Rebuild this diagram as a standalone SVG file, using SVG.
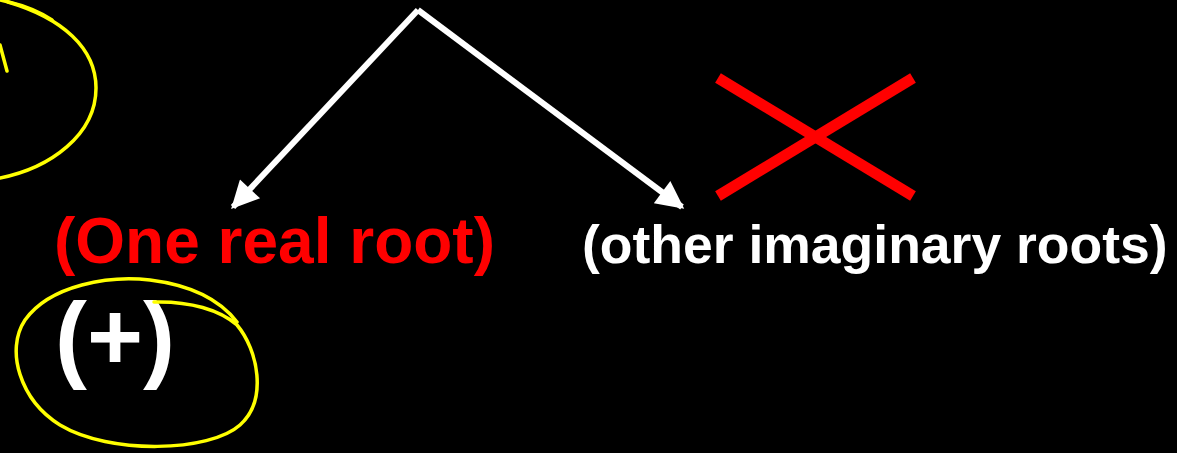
<svg xmlns="http://www.w3.org/2000/svg" width="1177" height="453" viewBox="0 0 1177 453">
<style>
.lbl{font-family:"Liberation Sans",Arial,sans-serif;font-weight:bold}
.hl{fill:none;stroke:#ffff00;stroke-width:3.5;stroke-linecap:round}
.conn{stroke:#ffffff;stroke-width:6;fill:none}
</style>
<defs>
<marker id="ah" viewBox="0 0 10 10" refX="9" refY="5" markerWidth="5" markerHeight="4.6" markerUnits="strokeWidth" orient="auto">
<path d="M0,0 L10,5 L0,10 z" fill="#ffffff"/>
</marker>
</defs>
<rect width="1177" height="453" fill="#000000"/>
<g id="connectors">
<line class="conn" x1="418" y1="10" x2="233" y2="207" marker-end="url(#ah)"/>
<line class="conn" x1="418" y1="10" x2="682" y2="207" marker-end="url(#ah)"/>
</g>
<g id="cross">
<line x1="718" y1="78" x2="913" y2="196" stroke="#ff0000" stroke-width="11"/>
<line x1="718" y1="196" x2="913" y2="78" stroke="#ff0000" stroke-width="11"/>
</g>
<g id="node-real">
<text class="lbl" x="54" y="263" font-size="64" fill="#ff0000">(One real root)</text>
</g>
<g id="node-imag">
<text class="lbl" x="582" y="263" font-size="53.5" fill="#ffffff">(other imaginary roots)</text>
</g>
<g id="node-plus">
<text class="lbl" x="55" y="370" font-size="96" fill="#ffffff">(+)</text>
</g>
<g id="highlights">
<path class="hl" d="M0,178 C50,168 96,135 96,88 C96,48 62,18 8,2"/>
<path class="hl" stroke-width="6" d="M0,0 C20,4 40,12 52,20"/>
<path class="hl" d="M0,45 L7,71"/>
<path class="hl" d="M154,302 C190,301 220,310 237,325 C258,350 268,400 240,425 C210,452 110,455 60,425 C20,400 5,350 25,320 C50,285 110,275 150,280 C190,285 220,300 237,322"/>
</g>
</svg>
